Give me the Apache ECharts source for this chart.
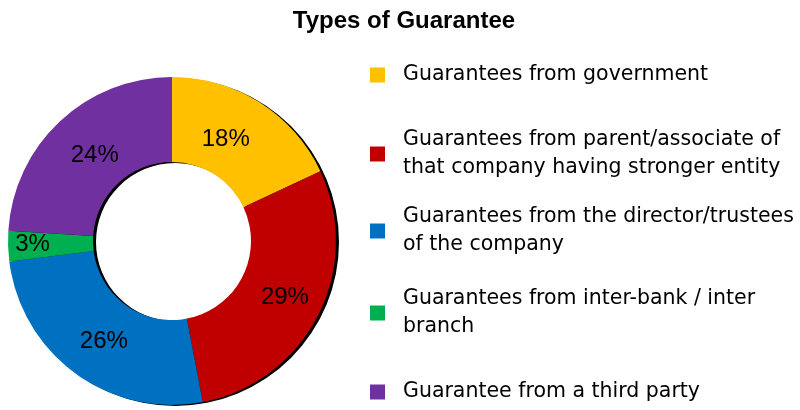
<!DOCTYPE html>
<html lang="en">
<head>
    <meta charset="UTF-8">
    <title>Types of Guarantee</title>
    <script type="text/javascript" src="https://cdn.jsdelivr.net/npm/echarts@6/dist/echarts.min.js"></script>
    <style>
        html, body { margin: 0; padding: 0; background: #fff; }
    </style>
</head>
<body>
<div id="main" style="width: 800px;height:410px;"></div>

<script>
    // data
    var titleText = 'Types of Guarantee';
    var names = [
        'Guarantees from government',
        'Guarantees from parent/associate of\nthat company having stronger entity',
        'Guarantees from the director/trustees\nof the company',
        'Guarantees from inter-bank / inter\nbranch',
        'Guarantee from a third party'
    ];
    var values = [18, 29, 26, 3, 24];
    var colors = ['#FFC000', '#C00000', '#0070C0', '#00B050', '#7030A0'];

    // vertical centres of the legend entries
    var legendCenters = [75, 154, 231, 313, 392];
    // small nudges of the slice labels, as placed in the original
    var labelNudge = [[-13, 3], [2, 0], [5, 0], [-15, -1], [8, 5]];

    var myChart = echarts.init(document.getElementById('main'));

    var pieData = names.map(function (n, i) {
        return {
            name: n,
            value: values[i],
            itemStyle: { color: colors[i] },
            label: { offset: labelNudge[i] }
        };
    });

    var legends = names.map(function (n, i) {
        var lines = n.split('\n').length;
        return {
            data: [n],
            orient: 'vertical',
            left: 370,
            top: legendCenters[i] - lines * 14,
            padding: 0,
            itemWidth: 15,
            itemHeight: 15,
            icon: 'rect',
            selectedMode: false,
            textStyle: {
                fontFamily: 'DejaVu Sans',
                fontSize: 20.5,
                lineHeight: 28,
                color: '#000',
                padding: [0, 0, 0, 13]
            }
        };
    });

    myChart.setOption({
        animation: false,
        title: {
            text: titleText,
            left: 399,
            textAlign: 'center',
            top: 4,
            textStyle: {
                fontFamily: 'Liberation Sans',
                fontWeight: 'bold',
                fontSize: 24,
                color: '#000'
            }
        },
        legend: legends,
        series: [
            {
                // dark offset ring behind the doughnut (drop shadow)
                type: 'pie',
                silent: true,
                center: [175, 242],
                radius: [79, 164],
                label: { show: false },
                labelLine: { show: false },
                data: [{ name: 'shadow', value: 1, itemStyle: { color: '#000' } }]
            },
            {
                name: 'Types of Guarantee',
                type: 'pie',
                center: [172, 241],
                radius: [79, 164],
                startAngle: 90,
                clockwise: true,
                avoidLabelOverlap: false,
                itemStyle: { borderWidth: 0 },
                label: {
                    show: true,
                    position: 'inside',
                    formatter: '{c}%',
                    fontFamily: 'Liberation Sans',
                    fontSize: 24,
                    color: '#000',
                    textBorderWidth: 0
                },
                labelLine: { show: false },
                data: pieData
            }
        ]
    });
</script>

</body>
</html>
